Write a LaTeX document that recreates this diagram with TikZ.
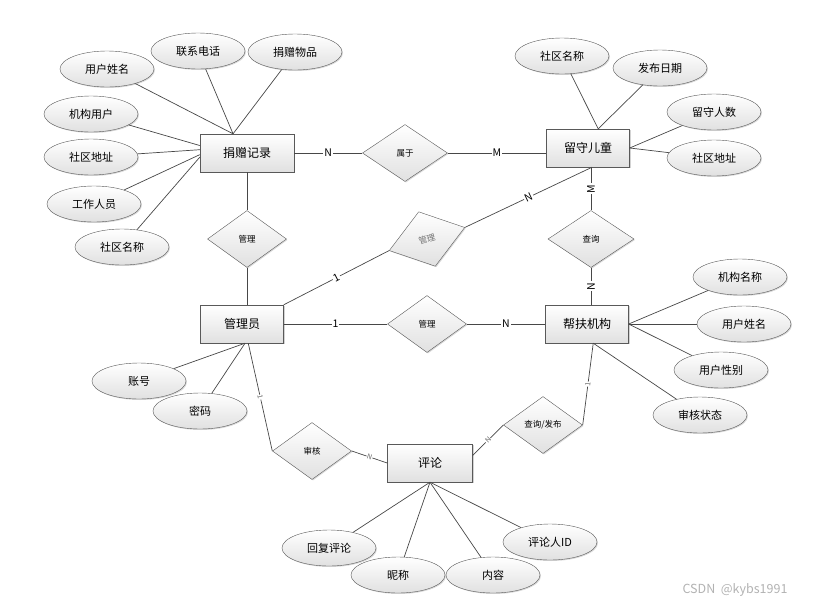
\documentclass[tikz,border=0pt]{standalone}
\usepackage{fontspec}
\setmainfont{Noto Sans CJK SC}
\usetikzlibrary{shapes.geometric, positioning, shadows}
\tikzstyle{entity} = [rectangle, minimum width=83pt, minimum height=38pt, draw=black!65, top color=white, bottom color=black!12, drop shadow={shadow xshift=1.2pt, shadow yshift=-1.2pt, opacity=0.35}, font=\fontsize{12}{14}\selectfont]
\tikzstyle{attr} = [ellipse, minimum width=94pt, minimum height=36pt, inner sep=0pt, draw=black!65, top color=white, bottom color=black!12, drop shadow={shadow xshift=1pt, shadow yshift=-1pt, opacity=0.3}, font=\fontsize{11}{13}\selectfont]
\tikzstyle{rel} = [diamond, aspect=1.4, minimum width=79pt, minimum height=57pt, inner sep=0pt, draw=black!65, top color=white, bottom color=black!12, drop shadow={shadow xshift=1pt, shadow yshift=-1pt, opacity=0.3}, font=\fontsize{8.5}{10}\selectfont]
\tikzstyle{link} = [draw=black!72, line width=0.7pt]
\tikzstyle{card} = [fill=white, inner sep=1pt, font=\fontsize{10.5}{12}\selectfont]
\tikzstyle{tinycard} = [fill=white, inner sep=0.5pt, text=black!60, font=\fontsize{7}{8}\selectfont]

\begin{document}
\begin{tikzpicture}[x=1pt, y=-1pt, on grid]
            \useasboundingbox (0,0) rectangle (828,606);
            % Entities and relations
            \node[entity, minimum width=94pt] (don) at (247,153) {捐赠记录};
            \node[rel, minimum width=85pt] (belong) [right=158pt of don] {属于};
            \node[entity] (child) [above right=5pt and 183pt of belong] {留守儿童};
            \node[rel] (mgr1) [below=86pt of don] {管理};
            \node[entity] (admin) [below left=85pt and 5pt of mgr1] {管理员};
            \node[rel] (mgr2) [right=185pt of admin] {管理};
            \node[entity] (org) [right=160pt of mgr2] {帮扶机构};
            \node[rel, minimum width=86pt] (query) [above right=85pt and 4pt of org] {查询};
            \node[rel, rotate=17, text=black!55] (mgr3) [above=85pt of mgr2] {管理};
            \node[entity, minimum width=85pt] (comment) [below right=139pt and 3pt of mgr2] {评论};
            \node[rel] (audit) [above left=12pt and 118pt of comment] {审核};
            \node[rel] (publish) [above right=38pt and 113pt of comment] {查询/发布};

            % Attributes of the donation record
            \node[attr] (donname) [above left=84pt and 140pt of don] {用户姓名};
            \node[attr] (dontel) [above left=102pt and 49pt of don] {联系电话};
            \node[attr] (dongoods) [above right=101pt and 48pt of don] {捐赠物品};
            \node[attr] (donorg) [above left=39pt and 156pt of don] {机构用户};
            \node[attr] (donaddr) [below left=4pt and 156pt of don] {社区地址};
            \node[attr] (donstaff) [below left=51pt and 153pt of don] {工作人员};
            \node[attr] (doncomm) [below left=94pt and 125pt of don] {社区名称};
            % Attributes of the children
            \node[attr] (chcomm) [above left=92pt and 26pt of child] {社区名称};
            \node[attr] (chdate) [above right=80pt and 72pt of child] {发布日期};
            \node[attr] (chcount) [above right=36pt and 126pt of child] {留守人数};
            \node[attr] (chaddr) [below right=10pt and 126pt of child] {社区地址};
            % Attributes of the aid organisation
            \node[attr] (orgname) [above right=47pt and 153pt of org] {机构名称};
            \node[attr] (orguser) [right=157pt of org] {用户姓名};
            \node[attr] (orgsex) [below right=46pt and 134pt of org] {用户性别};
            \node[attr] (orgstate) [below right=91pt and 113pt of org] {审核状态};
            % Attributes of the admin
            \node[attr] (adacc) [below left=57pt and 103pt of admin] {账号};
            \node[attr] (adpwd) [below left=87pt and 42pt of admin] {密码};
            % Attributes of the comment
            \node[attr] (cmreply) [below left=85pt and 101pt of comment] {回复评论};
            \node[attr] (cmnick) [below left=112pt and 32pt of comment] {昵称};
            \node[attr] (cmtext) [below right=112pt and 63pt of comment] {内容};
            \node[attr] (cmid) [below right=79pt and 120pt of comment] {评论人ID};

            \node[text=black!30, font=\fontsize{12.5}{14}\selectfont] (mark) at (735,590) {CSDN\ \ @kybs1991};

            % Attribute lines
            \draw[link] (donname) -- (don.126);
            \draw[link] (dontel) -- (don.126);
            \draw[link] (dongoods) -- (don.126);
            \draw[link] (donorg) -- (don.171);
            \draw[link] (donaddr) -- (don.176);
            \draw[link] (donstaff) -- (don.182);
            \draw[link] (doncomm) -- (don.185);
            \draw[link] (chcomm) -- (child.62);
            \draw[link] (chdate) -- (child.62);
            \draw[link] (chcount) -- (child.east);
            \draw[link] (chaddr) -- (child.east);
            \draw[link] (orgname) -- (org.east);
            \draw[link] (orguser) -- (org.east);
            \draw[link] (orgsex) -- (org.east);
            \draw[link] (orgstate) -- (org.-72);
            \draw[link] (adacc) -- (admin.-81);
            \draw[link] (adpwd) -- (admin.-81);
            \draw[link] (cmreply) -- (comment.south);
            \draw[link] (cmnick) -- (comment.south);
            \draw[link] (cmtext) -- (comment.south);
            \draw[link] (cmid) -- (comment.south);

            % Relation lines
            \coordinate (childfoot) at (child.-78);
            \draw[link] (don) -- node[card] {N} (belong);
            \draw[link] (belong.east) -- node[card] {M} (belong.east -| child.west);
            \draw[link] (don) -- (mgr1);
            \draw[link] (mgr1.south) -- (mgr1.south |- admin.north);
            \draw[link] (admin.north east) -- node[card, sloped] {1} (mgr3.west);
            \draw[link] (mgr3.east) -- node[card, sloped] {N} (childfoot);
            \draw[link] (query.north) -- node[card, rotate=90] {M} (query.north |- child.south);
            \draw[link] (query.south) -- node[card, rotate=90] {N} (query.south |- org.north);
            \draw[link] (admin) -- node[card] {1} (mgr2);
            \draw[link] (mgr2) -- node[card] {N} (org);
            \draw[link] (admin.-72) -- node[tinycard, sloped] {1} (audit.west);
            \draw[link] (audit.east) -- node[tinycard, sloped] {N} (comment.west);
            \draw[link] (comment.10) -- node[tinycard, sloped] {N} (publish.west);
            \draw[link] (publish.east) -- node[tinycard, sloped] {1} (org.-72);
        \end{tikzpicture}
\end{document}
